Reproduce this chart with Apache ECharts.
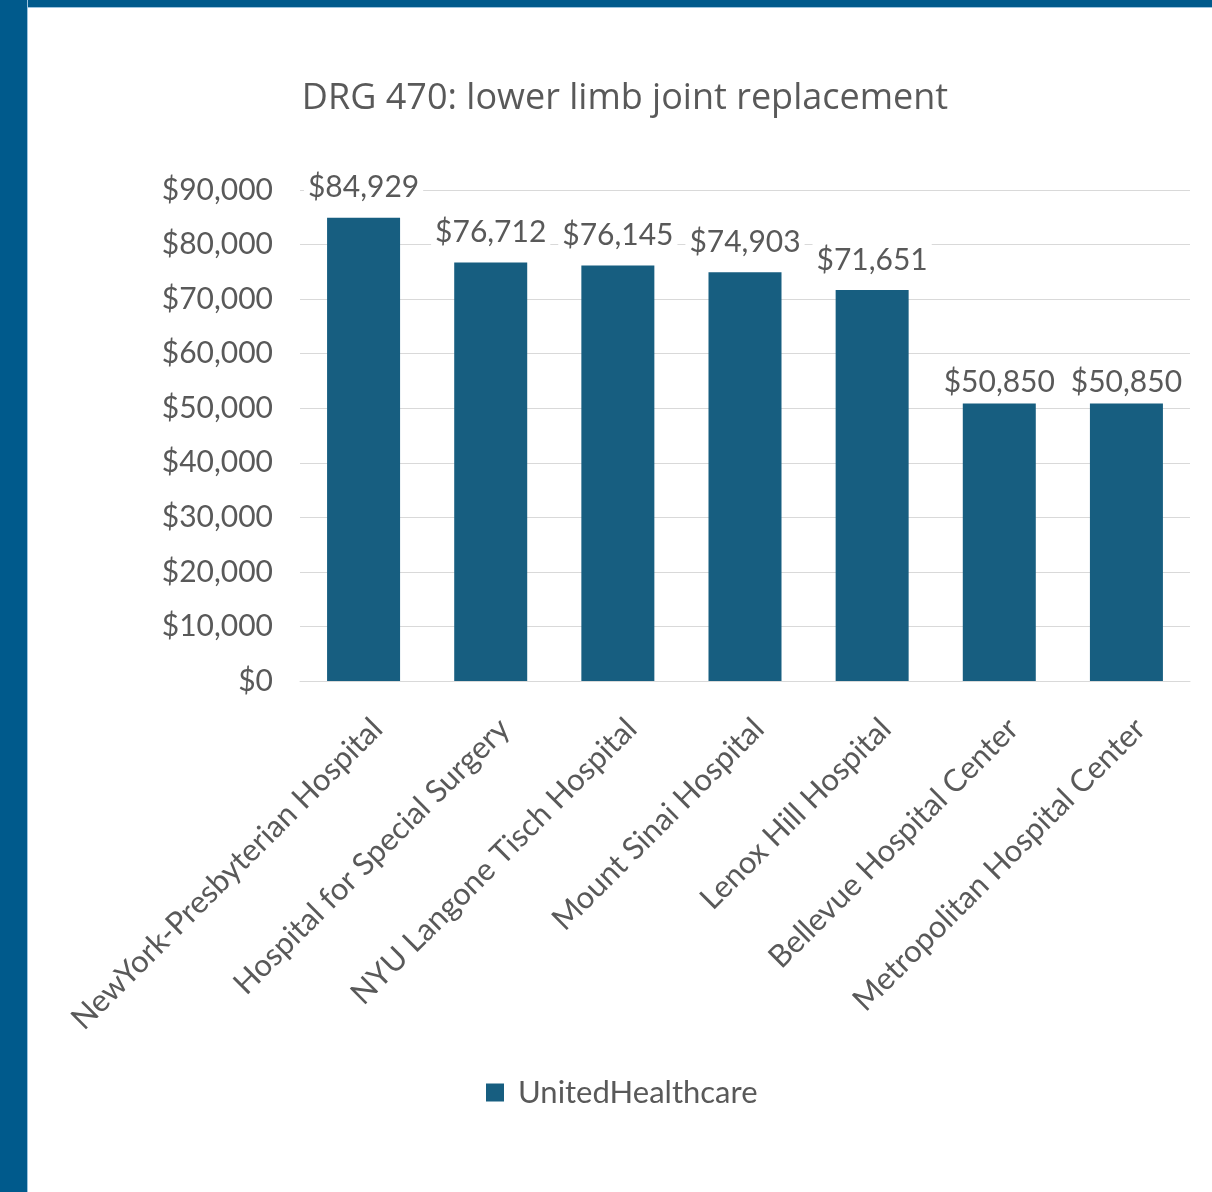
<!DOCTYPE html>
<html>
<head>
<meta charset="utf-8">
<script src="https://cdn.jsdelivr.net/npm/echarts@6/dist/echarts.min.js"></script>
<style>
html,body{margin:0;padding:0;background:#fff;}
#chart{position:absolute;left:0;top:0;width:1212px;height:1192px;}
.bl{position:absolute;left:0;top:0;width:27px;height:1192px;background:#005a8c;border-right:1px solid #9cc3de;}
.bt{position:absolute;left:0;top:0;width:1212px;height:7px;background:#005a8c;border-bottom:1px solid #9cc3de;}
</style>
</head>
<body>
<div id="chart"></div>
<div class="bt"></div>
<div class="bl"></div>
<script>
const titleText = 'DRG 470: lower limb joint replacement';
const seriesName = 'UnitedHealthcare';
const categories = ['NewYork-Presbyterian Hospital','Hospital for Special Surgery','NYU Langone Tisch Hospital','Mount Sinai Hospital','Lenox Hill Hospital','Bellevue Hospital Center','Metropolitan Hospital Center'];
const values = [84929, 76712, 76145, 74903, 71651, 50850, 50850];

const fmt = v => '$' + v.toLocaleString('en-US');
const textColor = '#595959';
// the two lowest labels sit closer to their bars in the reference
const barData = values.map((v, i) => i >= 5 ? {value: v, label: {distance: 5}} : v);
const chart = echarts.init(document.getElementById('chart'));
chart.setOption({
  backgroundColor: '#fff',
  textStyle: {fontFamily: 'Lato'},
  title: {text: titleText, left: 620, textAlign: 'center', top: 76,
    textStyle: {fontFamily: 'Open Sans', fontSize: 36, fontWeight: 'normal', color: textColor}},
  legend: {data: [seriesName], top: 1072, left: 481, icon: 'rect', itemWidth: 18, itemHeight: 18, itemGap: 10,
    textStyle: {fontFamily: 'Lato', fontSize: 31, color: textColor, padding: [0, 0, 0, 9]}},
  grid: {left: 300, right: 22, top: 190, bottom: 511, containLabel: false},
  xAxis: {type: 'category', data: categories,
    axisLine: {lineStyle: {color: '#d9d9d9', width: 1}}, axisTick: {show: false},
    axisLabel: {rotate: 45, interval: 0, margin: 29, verticalAlign: 'top', padding: [4, 0, 0, 0],
      fontFamily: 'Lato', fontSize: 31, color: textColor}},
  yAxis: {type: 'value', min: 0, max: 90000, interval: 10000,
    axisLine: {show: false}, axisTick: {show: false},
    splitLine: {lineStyle: {color: '#d9d9d9', width: 1}},
    axisLabel: {margin: 27, fontFamily: 'Lato', fontSize: 30, color: textColor, formatter: fmt}},
  series: [{name: seriesName, type: 'bar', data: barData, barWidth: 73,
    itemStyle: {color: '#175e80'},
    label: {show: true, position: 'top', distance: 14, fontFamily: 'Lato', fontSize: 30, color: textColor,
      backgroundColor: '#fff', padding: [1, 4], formatter: p => fmt(p.value)}}]
});
</script>
</body>
</html>
